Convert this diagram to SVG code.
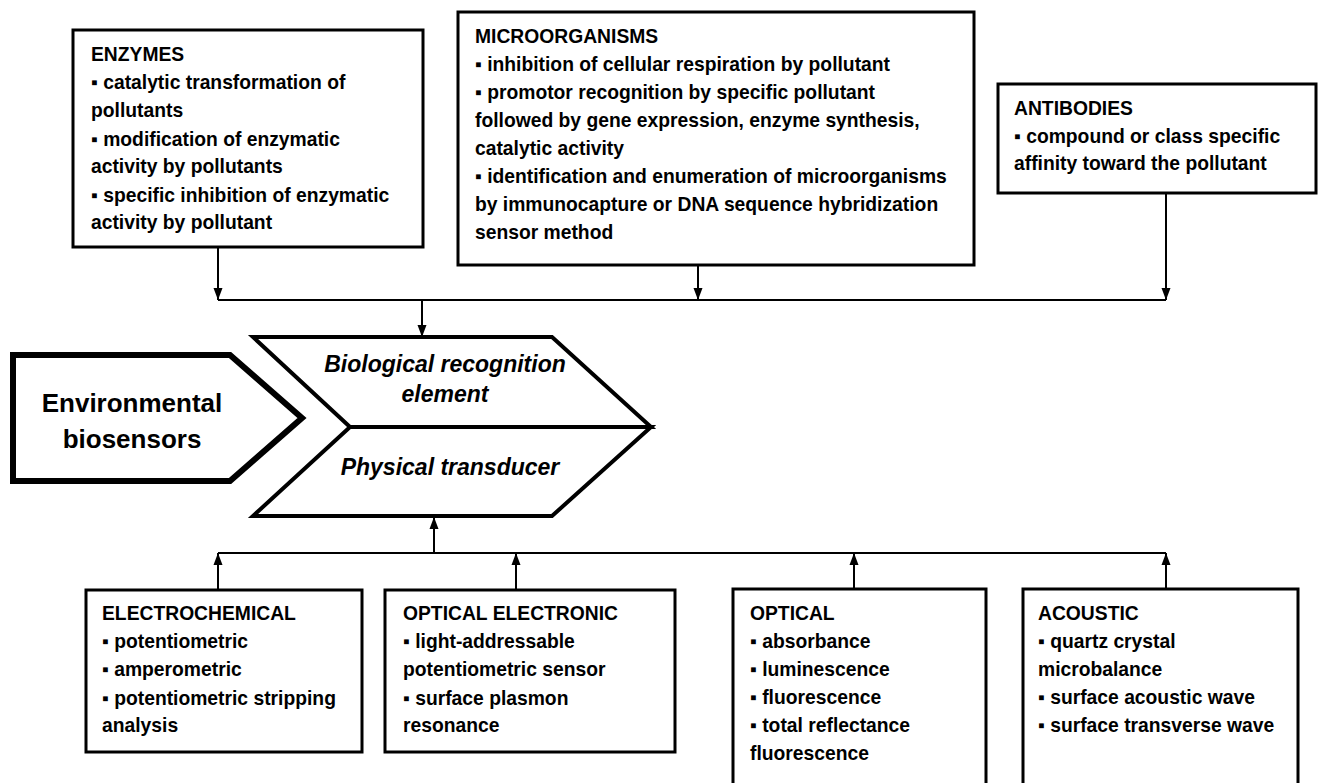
<svg xmlns="http://www.w3.org/2000/svg" width="1325" height="783" viewBox="0 0 1325 783">
  <style>
    .box { fill: #ffffff; stroke: #000000; stroke-width: 3; }
    .chev { fill: #ffffff; stroke: #000000; stroke-width: 4; stroke-linejoin: miter; }
    .env { fill: #ffffff; stroke: #000000; stroke-width: 6; stroke-linejoin: miter; }
    .txt { font-family: "Liberation Sans", Arial, sans-serif; font-weight: bold; font-size: 19.3px; fill: #000000; }
    .big { font-family: "Liberation Sans", Arial, sans-serif; font-weight: bold; font-size: 26px; fill: #000000; text-anchor: middle; }
    .ital { font-family: "Liberation Sans", Arial, sans-serif; font-weight: bold; font-style: italic; font-size: 23px; fill: #000000; text-anchor: middle; }
    .conn { fill: none; stroke: #000000; stroke-width: 2; }
  </style>
  <defs>
    <marker id="arrow" markerUnits="userSpaceOnUse" markerWidth="12" markerHeight="10" refX="12" refY="5" orient="auto">
      <path d="M0,0.5 L12,5 L0,9.5 z" fill="#000000"/>
    </marker>
  </defs>

  <rect width="1325" height="783" fill="#ffffff"/>

  <!-- connectors -->
  <g id="connectors" class="conn">
    <path d="M218,300 H1166"/>
    <path d="M218,247 V300" marker-end="url(#arrow)"/>
    <path d="M698,265 V300" marker-end="url(#arrow)"/>
    <path d="M1166,193 V300" marker-end="url(#arrow)"/>
    <path d="M422,300 V337" marker-end="url(#arrow)"/>
    <path d="M218,553 H1166"/>
    <path d="M434,553 V517" marker-end="url(#arrow)"/>
    <path d="M218,589 V553" marker-end="url(#arrow)"/>
    <path d="M516,589 V553" marker-end="url(#arrow)"/>
    <path d="M854,589 V553" marker-end="url(#arrow)"/>
    <path d="M1166,589 V553" marker-end="url(#arrow)"/>
  </g>

  <!-- biological recognition elements -->
  <g id="enzymes">
    <rect class="box" x="73" y="30" width="350" height="217"/>
    <text class="txt" x="91" y="61">ENZYMES</text>
    <text class="txt" x="91" y="89">▪ catalytic transformation of</text>
    <text class="txt" x="91" y="117">pollutants</text>
    <text class="txt" x="91" y="146">▪ modification of enzymatic</text>
    <text class="txt" x="91" y="173">activity by pollutants</text>
    <text class="txt" x="91" y="202">▪ specific inhibition of enzymatic</text>
    <text class="txt" x="91" y="229">activity by pollutant</text>
  </g>

  <g id="microorganisms">
    <rect class="box" x="458" y="12" width="516" height="253"/>
    <text class="txt" x="475" y="43">MICROORGANISMS</text>
    <text class="txt" x="475" y="71">▪ inhibition of cellular respiration by pollutant</text>
    <text class="txt" x="475" y="99">▪ promotor recognition by specific pollutant</text>
    <text class="txt" x="475" y="127">followed by gene expression, enzyme synthesis,</text>
    <text class="txt" x="475" y="155">catalytic activity</text>
    <text class="txt" x="475" y="183">▪ identification and enumeration of microorganisms</text>
    <text class="txt" x="475" y="211">by immunocapture or DNA sequence hybridization</text>
    <text class="txt" x="475" y="239">sensor method</text>
  </g>

  <g id="antibodies">
    <rect class="box" x="998" y="84" width="318" height="109"/>
    <text class="txt" x="1014" y="115">ANTIBODIES</text>
    <text class="txt" x="1014" y="143">▪ compound or class specific</text>
    <text class="txt" x="1014" y="170">affinity toward the pollutant</text>
  </g>

  <!-- central chevrons -->
  <g id="environmental-biosensors">
    <path class="env" d="M13,355 H230 L302,418 L230,481 H13 Z"/>
    <text class="big" x="132" y="412">Environmental</text>
    <text class="big" x="132" y="448">biosensors</text>
  </g>

  <g id="biological-recognition-element">
    <path class="chev" d="M253,337 H552 L651,427 H350 Z"/>
    <text class="ital" x="445" y="372">Biological recognition</text>
    <text class="ital" x="445" y="402">element</text>
  </g>

  <g id="physical-transducer">
    <path class="chev" d="M350,427 H651 L552,516 H253 Z"/>
    <text class="ital" x="450" y="475">Physical transducer</text>
  </g>

  <!-- transducer types -->
  <g id="electrochemical">
    <rect class="box" x="86" y="590" width="276" height="162"/>
    <text class="txt" x="102" y="620">ELECTROCHEMICAL</text>
    <text class="txt" x="102" y="648">▪ potentiometric</text>
    <text class="txt" x="102" y="676">▪ amperometric</text>
    <text class="txt" x="102" y="705">▪ potentiometric stripping</text>
    <text class="txt" x="102" y="732">analysis</text>
  </g>

  <g id="optical-electronic">
    <rect class="box" x="385" y="590" width="290" height="162"/>
    <text class="txt" x="403" y="620">OPTICAL ELECTRONIC</text>
    <text class="txt" x="403" y="648">▪ light-addressable</text>
    <text class="txt" x="403" y="676">potentiometric sensor</text>
    <text class="txt" x="403" y="705">▪ surface plasmon</text>
    <text class="txt" x="403" y="732">resonance</text>
  </g>

  <g id="optical">
    <rect class="box" x="733" y="589" width="253" height="210"/>
    <text class="txt" x="750" y="620">OPTICAL</text>
    <text class="txt" x="750" y="648">▪ absorbance</text>
    <text class="txt" x="750" y="676">▪ luminescence</text>
    <text class="txt" x="750" y="704">▪ fluorescence</text>
    <text class="txt" x="750" y="732">▪ total reflectance</text>
    <text class="txt" x="750" y="760">fluorescence</text>
  </g>

  <g id="acoustic">
    <rect class="box" x="1023" y="589" width="275" height="210"/>
    <text class="txt" x="1038" y="620">ACOUSTIC</text>
    <text class="txt" x="1038" y="648">▪ quartz crystal</text>
    <text class="txt" x="1038" y="676">microbalance</text>
    <text class="txt" x="1038" y="704">▪ surface acoustic wave</text>
    <text class="txt" x="1038" y="732">▪ surface transverse wave</text>
  </g>
</svg>
